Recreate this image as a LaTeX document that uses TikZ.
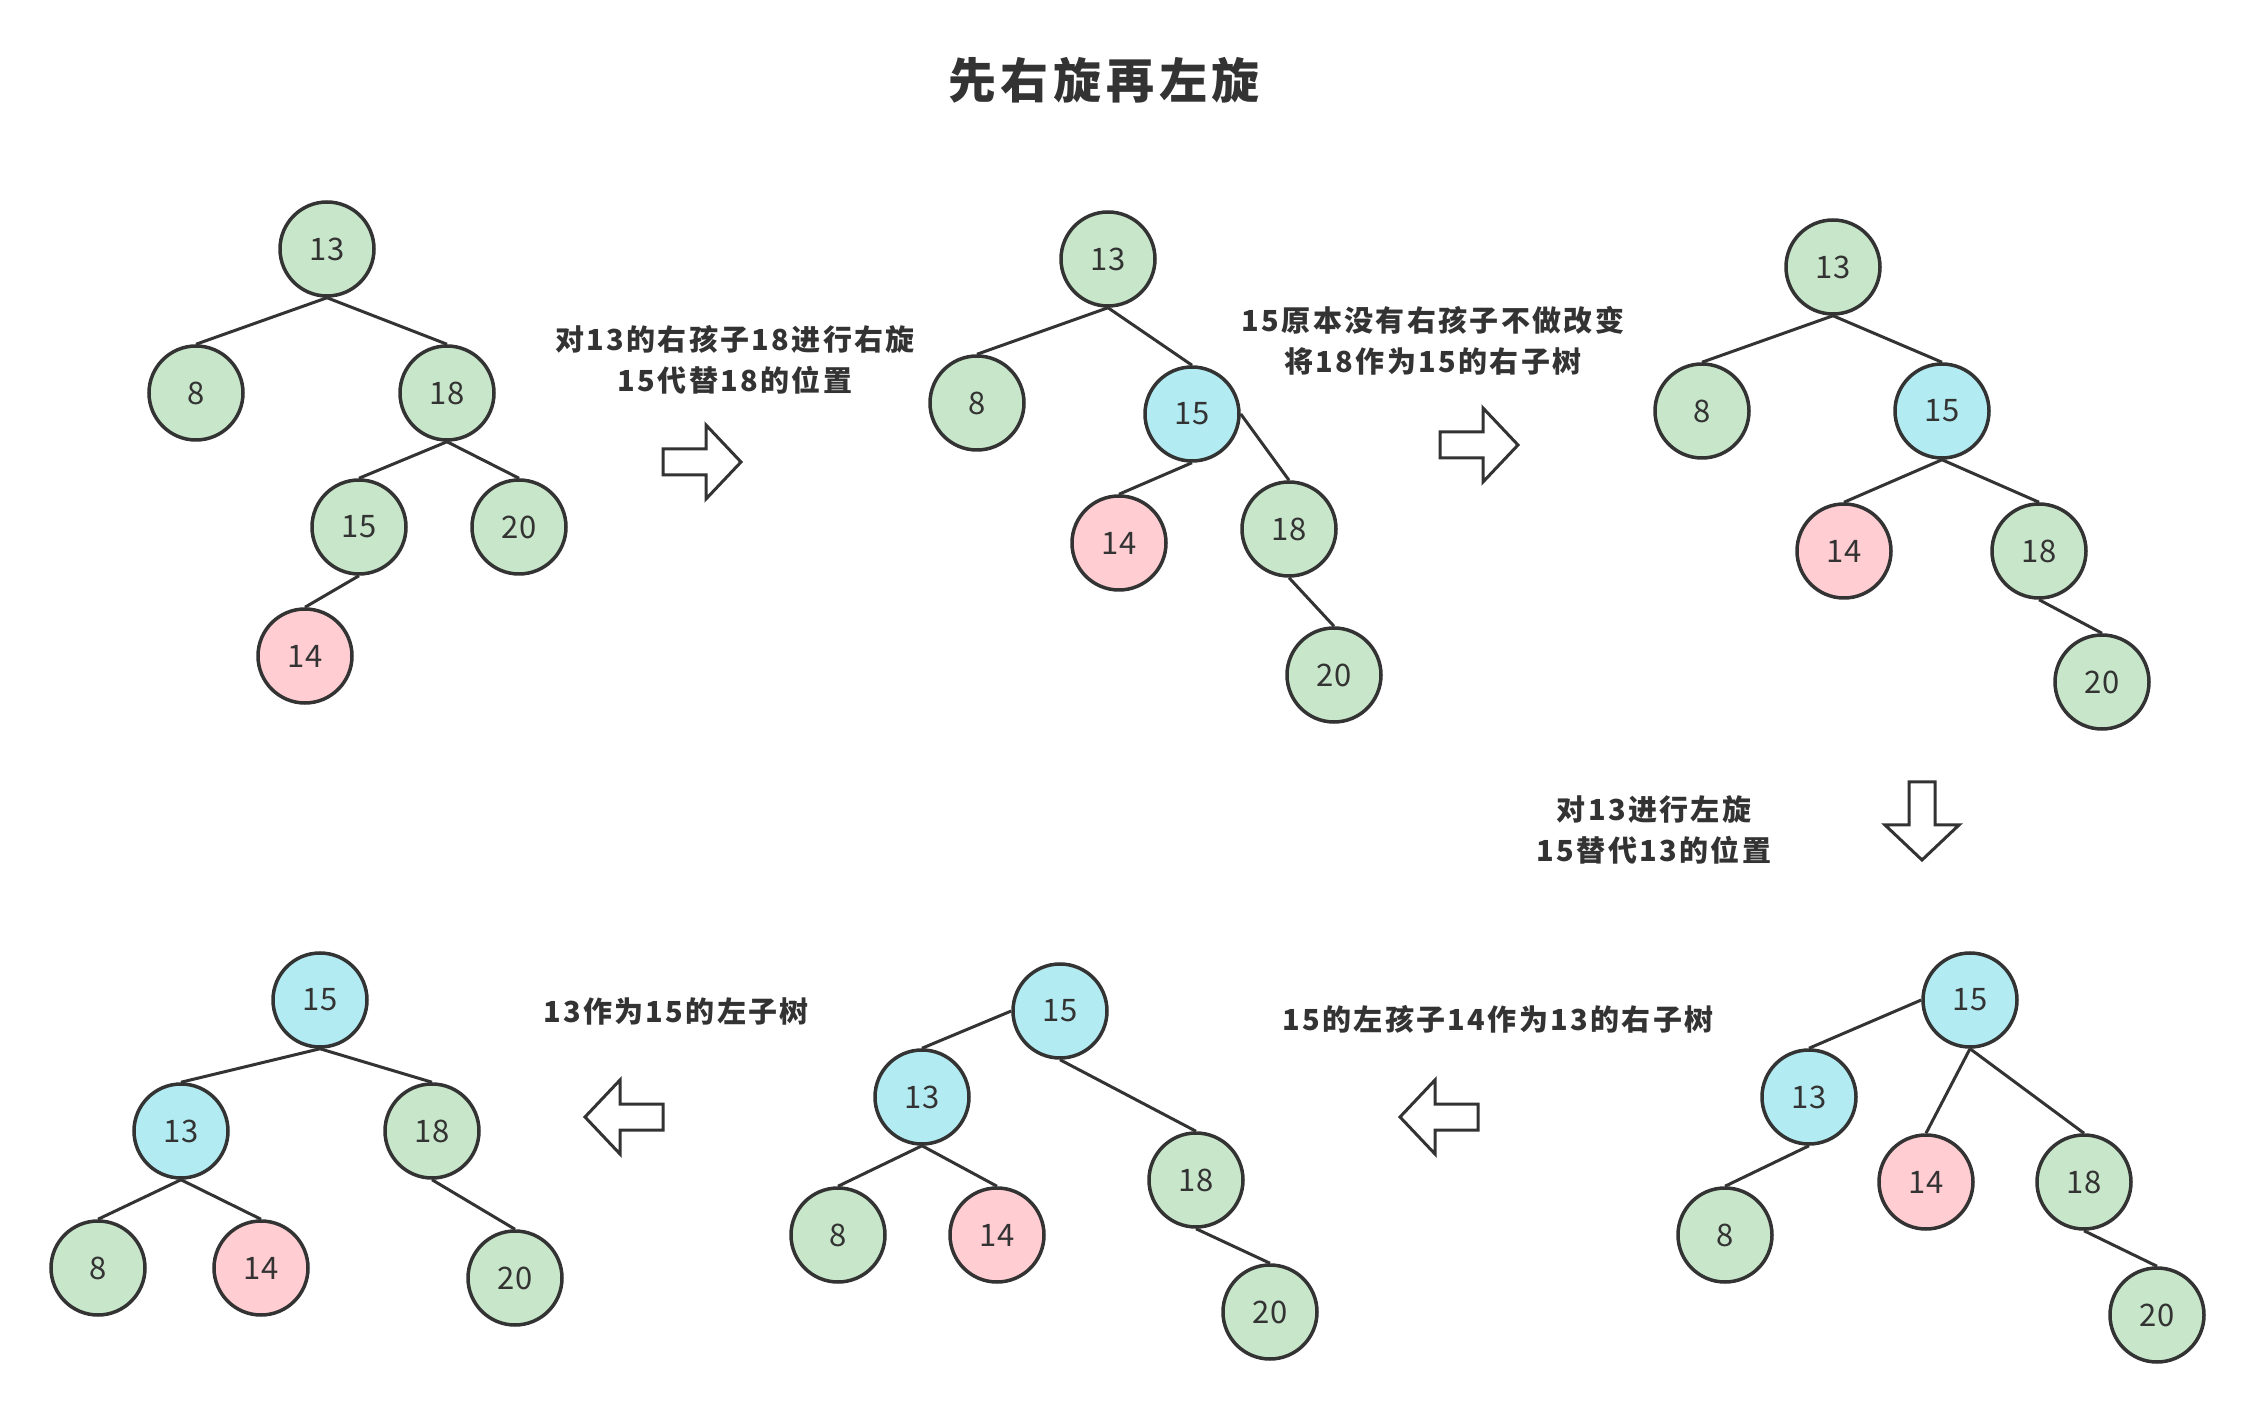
\documentclass[tikz,border=0pt]{standalone}
\usepackage{fontspec}
\setmainfont{Noto Sans CJK SC}
\newfontfamily\capfont[LetterSpace=8]{Noto Sans CJK SC}
\newfontfamily\headfont[LetterSpace=10]{Noto Sans CJK SC}
\usetikzlibrary{positioning}
\definecolor{ink}{HTML}{333333}
\definecolor{nGreen}{HTML}{C8E6C9}
\definecolor{nBlue}{HTML}{B2EBF2}
\definecolor{nPink}{HTML}{FFCDD2}

\begin{document}
\begin{tikzpicture}[x=0.5pt,y=-0.5pt,
  nd/.style={circle,draw=ink,line width=1.75pt,minimum size=47pt,inner sep=0pt,
    text=ink,font=\fontsize{15.5}{18}\selectfont},
  gn/.style={nd,fill=nGreen},
  bn/.style={nd,fill=nBlue},
  pn/.style={nd,fill=nPink},
  edge/.style={draw=ink,line width=1.5pt},
  stepnote/.style={text=ink,align=center,font=\capfont\bfseries\fontsize{14.5}{20.5}\selectfont},
  arrowline/.style={draw=ink,line width=1.5pt,fill=white,line join=miter},
  pics/blockarrow/.style={code={
    \draw[arrowline] (-39,-13) -- (4,-13) -- (4,-37) -- (39,0) -- (4,37) -- (4,13) -- (-39,13) -- cycle;}}]
\useasboundingbox (0,0) rectangle (2256,1411);
% title
\node[text=ink,font=\headfont\bfseries\fontsize{24}{28}\selectfont] (title) at (1104,80) {先右旋再左旋};
% tree a: start
\node[gn] (a13) at (327,249) {13};
\node[gn] (a8) at (196,393) {8};
\node[gn] (a18) at (447,393) {18};
\node[gn] (a15) at (359,527) {15};
\node[gn] (a20) at (519,527) {20};
\node[pn] (a14) at (305,656) {14};
\draw[edge] (a13.south) -- (a8.north);
\draw[edge] (a13.south) -- (a18.north);
\draw[edge] (a18.south) -- (a15.north);
\draw[edge] (a18.south) -- (a20.north);
\draw[edge] (a15.south) -- (a14.north);
\node[stepnote] (notea) at (735,360) {对13的右孩子18进行右旋\\15代替18的位置};
\pic at (702,462) {blockarrow};
% tree b: right rotation on 18
\node[gn] (b13) at (1108,259) {13};
\node[gn] (b8) at (977,403) {8};
\node[bn] (b15) at (1192,414) {15};
\node[pn] (b14) at (1119,543) {14};
\node[gn] (b18) at (1289,529) {18};
\node[gn] (b20) at (1334,675) {20};
\draw[edge] (b13.south) -- (b8.north);
\draw[edge] (b13.south) -- (b15.north);
\draw[edge] (b15.south) -- (b14.north);
\draw[edge] (b15.east) -- (b18.north);
\draw[edge] (b18.south) -- (b20.north);
\node[stepnote] (noteb) at (1433,341) {15原本没有右孩子不做改变\\将18作为15的右子树};
\pic at (1479,445) {blockarrow};
% tree c: after right rotation
\node[gn] (c13) at (1833,267) {13};
\node[gn] (c8) at (1702,411) {8};
\node[bn] (c15) at (1942,411) {15};
\node[pn] (c14) at (1844,551) {14};
\node[gn] (c18) at (2039,551) {18};
\node[gn] (c20) at (2102,682) {20};
\draw[edge] (c13.south) -- (c8.north);
\draw[edge] (c13.south) -- (c15.north);
\draw[edge] (c15.south) -- (c14.north);
\draw[edge] (c15.south) -- (c18.north);
\draw[edge] (c18.south) -- (c20.north);
\node[stepnote] (notec) at (1654,830) {对13进行左旋\\15替代13的位置};
\pic[rotate=-90] at (1922,821) {blockarrow};
% tree d: left rotation on 13
\node[bn] (d15) at (1970,1000) {15};
\node[bn] (d13) at (1809,1097) {13};
\node[pn] (d14) at (1926,1182) {14};
\node[gn] (d18) at (2084,1182) {18};
\node[gn] (d8) at (1725,1235) {8};
\node[gn] (d20) at (2157,1315) {20};
\draw[edge] (d15.west) -- (d13.north);
\draw[edge] (d15.south) -- (d14.north);
\draw[edge] (d15.south) -- (d18.north);
\draw[edge] (d13.south) -- (d8.north);
\draw[edge] (d18.south) -- (d20.north);
\node[stepnote] (noted) at (1498,1019) {15的左孩子14作为13的右子树};
\pic[rotate=180] at (1439,1117) {blockarrow};
% tree e: 14 moved under 13
\node[bn] (e15) at (1060,1011) {15};
\node[bn] (e13) at (922,1097) {13};
\node[gn] (e18) at (1196,1180) {18};
\node[gn] (e8) at (838,1235) {8};
\node[pn] (e14) at (997,1235) {14};
\node[gn] (e20) at (1270,1312) {20};
\draw[edge] (e15.west) -- (e13.north);
\draw[edge] (e15.south) -- (e18.north);
\draw[edge] (e13.south) -- (e8.north);
\draw[edge] (e13.south) -- (e14.north);
\draw[edge] (e18.south) -- (e20.north);
\node[stepnote] (notee) at (676,1011) {13作为15的左子树};
\pic[rotate=180] at (624,1117) {blockarrow};
% tree f: result
\node[bn] (f15) at (320,1000) {15};
\node[bn] (f13) at (181,1131) {13};
\node[gn] (f18) at (432,1131) {18};
\node[gn] (f8) at (98,1268) {8};
\node[pn] (f14) at (261,1268) {14};
\node[gn] (f20) at (515,1278) {20};
\draw[edge] (f15.south) -- (f13.north);
\draw[edge] (f15.south) -- (f18.north);
\draw[edge] (f13.south) -- (f8.north);
\draw[edge] (f13.south) -- (f14.north);
\draw[edge] (f18.south) -- (f20.north);
\end{tikzpicture}
\end{document}
